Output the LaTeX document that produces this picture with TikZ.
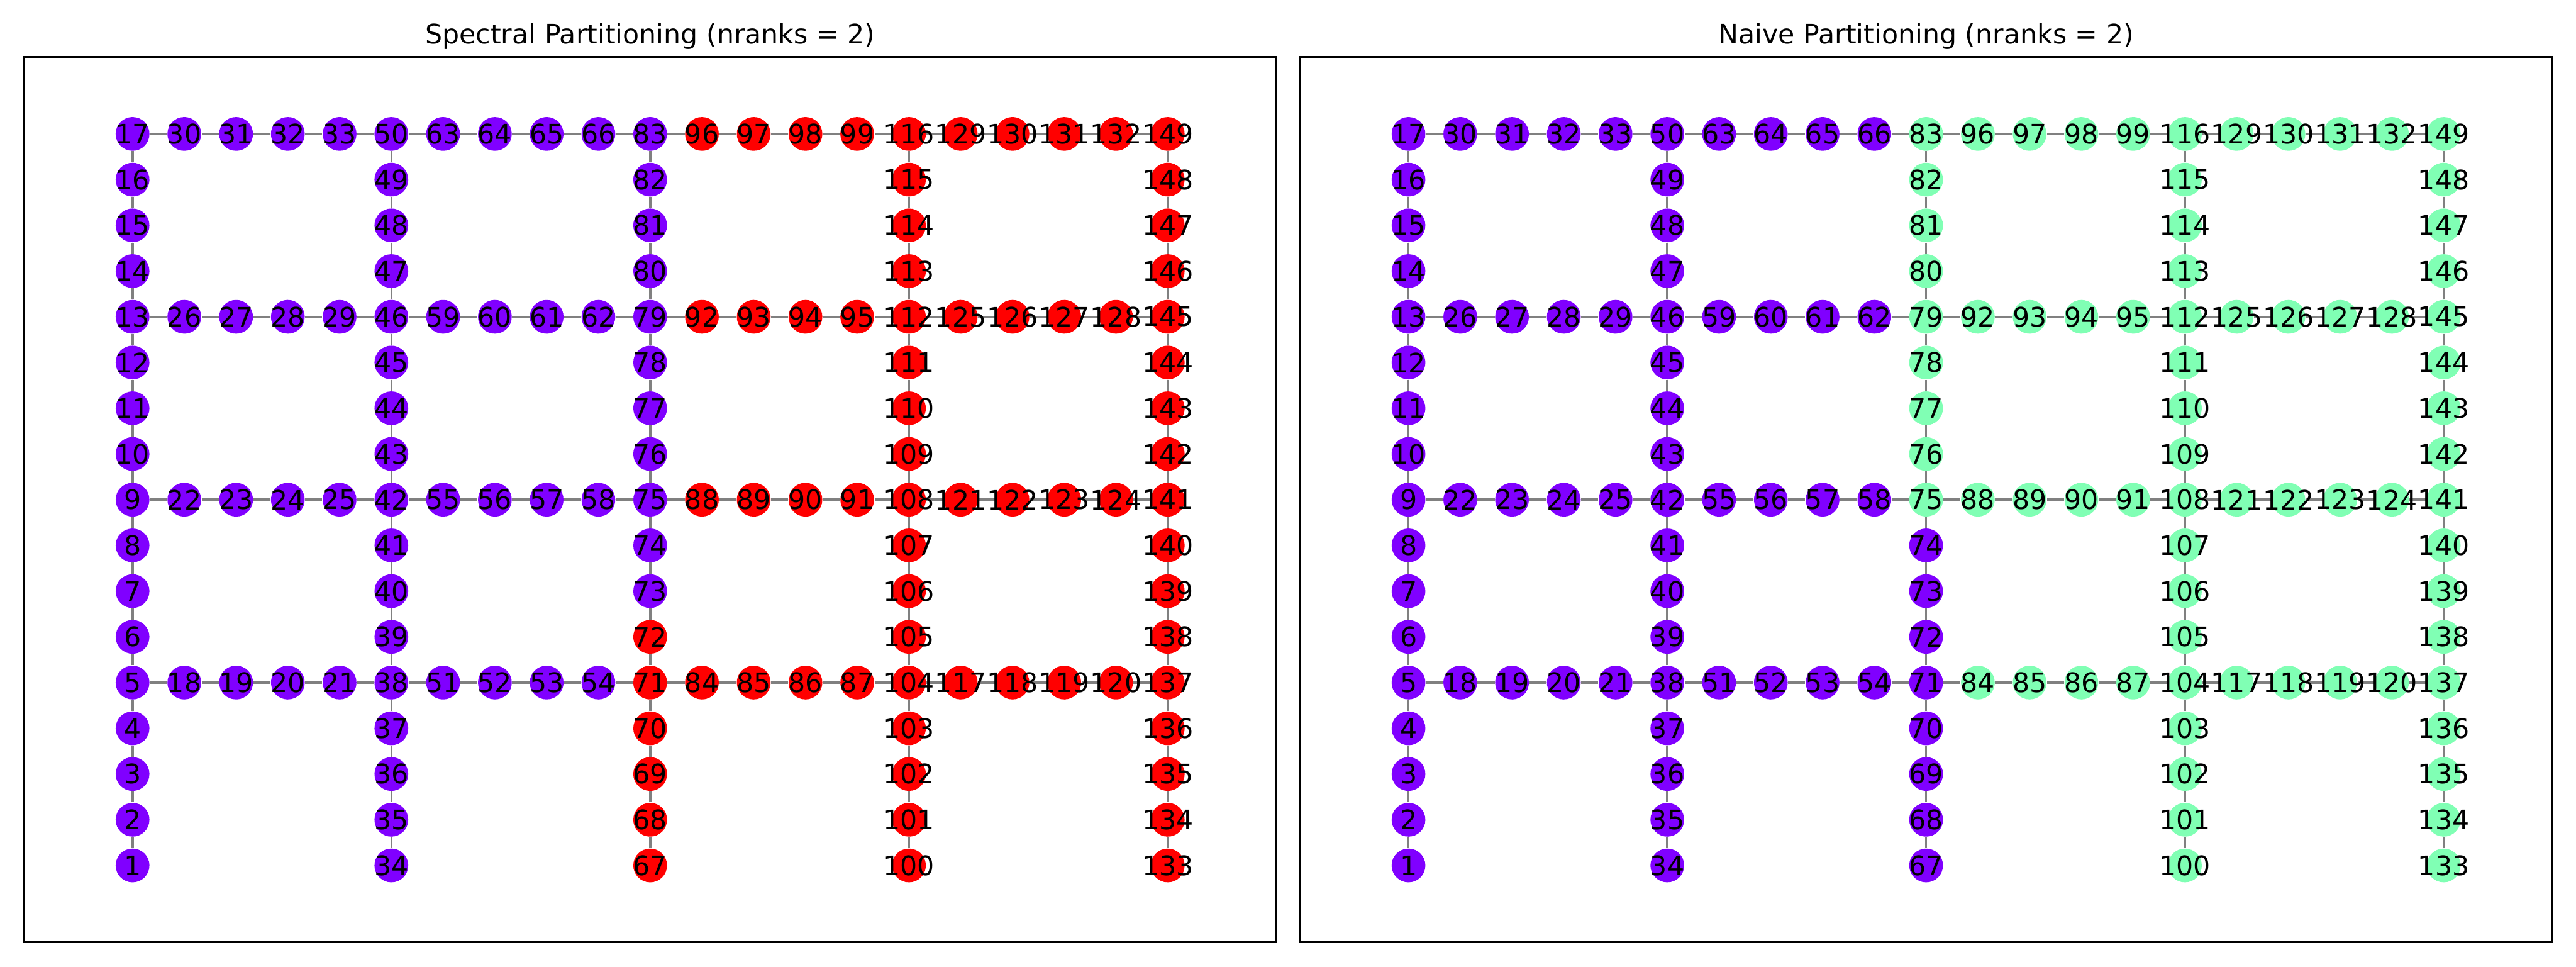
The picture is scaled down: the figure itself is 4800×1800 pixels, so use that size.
\documentclass[tikz,border=0pt]{standalone}
\usepackage{fontspec}
\setmainfont{DejaVu Sans}
\definecolor{rankA}{HTML}{8000FF}
\definecolor{rankB}{HTML}{FF0000}
\definecolor{rankC}{HTML}{80FFB4}
\pgfdeclarelayer{edges}
\pgfsetlayers{edges,main}
\tikzset{
  vertex/.style={circle, inner sep=0pt, minimum size=15.1pt},
  vlabel/.style={inner sep=0pt, font=\fontsize{12}{14}\selectfont},
  link/.style={draw=gray, line width=1pt},
  frame/.style={draw=black, line width=0.8pt},
  ptitle/.style={anchor=base, inner sep=0pt, font=\fontsize{12}{14}\selectfont}
}
\begin{document}
\begin{tikzpicture}[x=0.24pt, y=0.24pt, line cap=butt]
  \useasboundingbox (0,0) rectangle (4800,1800);
  \foreach \p/\off/\ttl in {s/0/Spectral, n/2377.5/Naive} {
    \draw[frame] (45.5+\off,45) rectangle (2377.7+\off,1694);
    \node[ptitle] (title\p) at (1211.6+\off,1719) {\ttl\ Partitioning (nranks = 2)};
    \begin{scope}[shift={(247+\off,188)}, x=23.148pt, y=20.438pt]
      % vertices: columns of 17, then 4 rungs of 4 between columns
      \foreach \n in {1,...,149} {
        \pgfmathtruncatemacro\k{(\n-1)/33}
        \pgfmathtruncatemacro\t{\n-1-33*\k}
        \ifnum\t<17
          \pgfmathtruncatemacro\c{5*\k}
          \pgfmathtruncatemacro\r{\t}
        \else
          \pgfmathtruncatemacro\j{(\t-17)/4}
          \pgfmathtruncatemacro\c{5*\k+1+\t-17-4*\j}
          \pgfmathtruncatemacro\r{4+4*\j}
        \fi
        \if\p s
          \ifnum\n<67 \def\col{rankA}\else\ifnum\n<73 \def\col{rankB}\else\ifnum\n<84 \def\col{rankA}\else\def\col{rankB}\fi\fi\fi
        \else
          \ifnum\n<75 \def\col{rankA}\else\def\col{rankC}\fi
        \fi
        \node[vertex, fill=\col] (\p\n) at (\c,\r) {};
      }
      % numbers on top of all discs
      \foreach \n in {1,...,149}
        \node[vlabel] (\p\n l) at (\p\n) {\n};
      % edges
      \begin{pgfonlayer}{edges}
        \foreach \k in {0,...,4}
          \foreach \i in {1,...,16} {
            \pgfmathtruncatemacro\a{33*\k+\i}
            \pgfmathtruncatemacro\b{\a+1}
            \draw[link] (\p\a) -- (\p\b);
          }
        \foreach \k in {0,...,3}
          \foreach \j in {0,...,3} {
            \pgfmathtruncatemacro\a{33*\k+5+4*\j}
            \pgfmathtruncatemacro\b{33*\k+18+4*\j}
            \pgfmathtruncatemacro\e{\a+33}
            \draw[link] (\p\a) -- (\p\b) -- (\p\the\numexpr\b+1\relax) -- (\p\the\numexpr\b+2\relax) -- (\p\the\numexpr\b+3\relax) -- (\p\e);
          }
      \end{pgfonlayer}
    \end{scope}
  }
\end{tikzpicture}
\end{document}
